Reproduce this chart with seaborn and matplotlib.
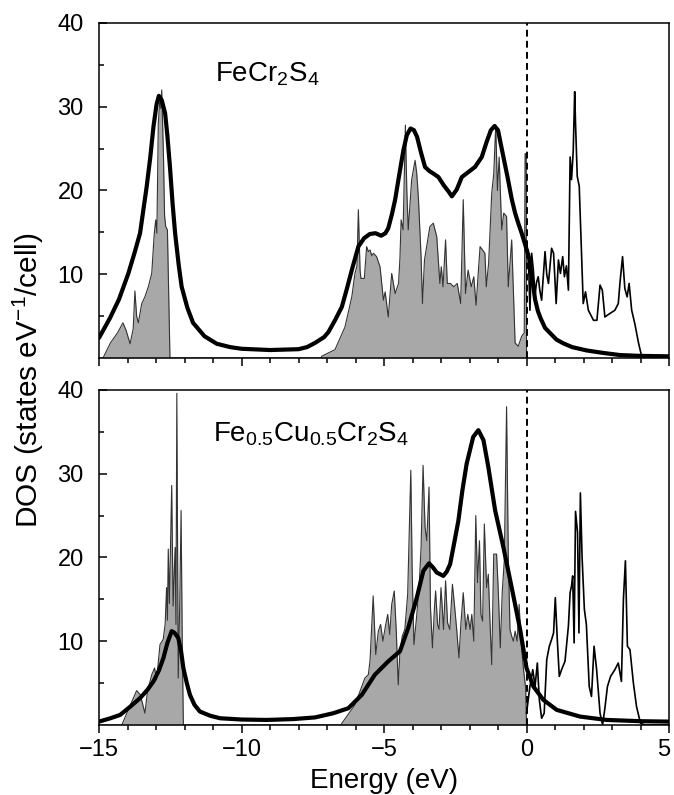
import matplotlib
matplotlib.use("Agg")
import matplotlib.pyplot as plt
import matplotlib.transforms as mtransforms
import seaborn as sns

# ---------------- FeCr2S4 ----------------
# occupied DOS (shaded, E <= 0)
fecr_occ_e = [-15.0, -14.86, -14.6, -14.35, -14.16, -14.05, -13.91, -13.8, -13.74, -13.68,
              -13.62, -13.5, -13.39, -13.27, -13.15, -13.06, -13.01, -12.97, -12.92, -12.86,
              -12.83, -12.8, -12.74, -12.7, -12.66, -12.6, -12.51, -7.2,
              -7.19, -6.72, -6.37, -6.13, -6.02, -5.95, -5.9, -5.84, -5.81, -5.69,
              -5.61, -5.55, -5.49, -5.43, -5.37, -5.26, -5.14, -5.02, -4.96, -4.85,
              -4.73, -4.61, -4.49, -4.44, -4.40, -4.33, -4.25, -4.2, -4.15, -4.03,
              -3.91, -3.85, -3.79, -3.7, -3.65, -3.58, -3.39, -3.27, -3.15, -3.04,
              -2.99, -2.93, -2.84, -2.78, -2.67, -2.55, -2.43, -2.31, -2.22, -2.14,
              -2.05, -1.94, -1.85, -1.77, -1.63, -1.46, -1.41, -1.33, -1.22, -1.15,
              -1.08, -1.02, -0.96, -0.87, -0.8, -0.7, -0.64, -0.52, -0.40, -0.29,
              -0.17, -0.08, -0.05, -0.01, 0.0]
fecr_occ_dos = [0.0, 0.0, 1.8, 3.0, 4.2, 3.3, 1.7, 3.5, 8.0, 5.0,
                4.2, 6.5, 7.3, 8.5, 10.1, 14.9, 16.5, 14.9, 28.0, 31.2,
                29.8, 32.0, 24.4, 17.0, 15.7, 15.3, 0.0, 0.0,
                0.2, 1.0, 3.7, 7.3, 10.1, 11.0, 17.7, 10.5, 9.5, 9.5,
                13.3, 12.7, 12.9, 12.2, 12.5, 12.1, 10.9, 6.9, 7.9, 4.9,
                10.1, 7.7, 8.9, 12.0, 16.5, 15.3, 27.8, 20.0, 15.3, 21.3,
                23.6, 22.0, 18.9, 12.1, 6.5, 11.7, 15.7, 16.1, 14.5, 8.9,
                10.9, 8.5, 14.1, 8.9, 8.9, 8.5, 8.9, 6.5, 18.9, 7.7,
                10.5, 8.5, 9.7, 6.3, 13.3, 12.5, 8.5, 11.3, 19.7, 22.0,
                27.8, 20.0, 24.0, 15.3, 17.3, 16.9, 8.5, 14.1, 1.8, 1.4,
                2.6, 3.0, 24.4, 24.4, 0.0]

# unoccupied DOS (thin line, E >= 0)
fecr_unocc_e = [0.0, 0.06, 0.12, 0.18, 0.24, 0.3, 0.35, 0.41, 0.47, 0.53,
                0.65, 0.71, 0.77, 0.88, 0.95, 1.04, 1.12, 1.19, 1.27, 1.33,
                1.4, 1.47, 1.53, 1.58, 1.64, 1.69, 1.72, 1.78, 1.85, 1.93,
                1.99, 2.07, 2.17, 2.35, 2.47, 2.58, 2.66, 2.75, 2.92, 3.1,
                3.22, 3.28, 3.37, 3.45, 3.53, 3.6, 3.69, 3.8, 3.93, 4.04,
                4.2, 5.0]
fecr_unocc_dos = [12.9, 12.9, 5.7, 12.5, 10.5, 7.5, 9.0, 9.7, 8.0, 6.9,
                  12.7, 10.0, 8.9, 13.1, 12.5, 6.5, 11.7, 10.1, 12.1, 9.7,
                  11.0, 8.1, 24.0, 21.3, 24.8, 31.8, 28.0, 21.7, 20.5, 12.5,
                  6.5, 7.9, 5.7, 4.5, 4.5, 8.7, 8.1, 4.9, 5.3, 5.7,
                  6.5, 9.0, 12.1, 8.3, 7.3, 8.9, 5.7, 4.1, 1.8, 0.2,
                  0.0, 0.0]

# broadened spectrum (thick line)
fecr_broad_e = [-15.0, -14.61, -14.3, -13.97, -13.75, -13.56, -13.33, -13.2, -13.09, -12.98,
                -12.9, -12.8, -12.68, -12.6, -12.51, -12.42, -12.33, -12.2, -12.1, -11.9,
                -11.7, -11.3, -10.87, -10.4, -10.0, -9.0, -8.0, -7.7, -7.42, -7.1,
                -6.95, -6.72, -6.48, -6.3, -6.13, -5.9, -5.7, -5.5, -5.3, -5.1,
                -4.95, -4.85, -4.72, -4.61, -4.44, -4.32, -4.2, -4.07, -3.95, -3.84,
                -3.7, -3.56, -3.4, -3.26, -3.09, -2.9, -2.74, -2.62, -2.45, -2.27,
                -2.04, -1.81, -1.57, -1.4, -1.25, -1.12, -1.0, -0.9, -0.78, -0.66,
                -0.52, -0.4, -0.28, -0.17, 0.0, 0.1, 0.18, 0.25, 0.3, 0.4,
                0.5, 0.65, 0.82, 1.05, 1.29, 1.6, 2.11, 2.7, 3.28, 4.0,
                5.0]
fecr_broad_dos = [2.4, 4.8, 7.0, 10.1, 12.6, 14.9, 20.4, 24.0, 27.6, 30.3,
                  31.3, 30.8, 29.2, 26.5, 22.8, 18.5, 14.9, 11.0, 8.5, 6.0,
                  4.2, 2.6, 1.7, 1.3, 1.1, 0.95, 1.05, 1.3, 1.8, 2.5,
                  3.1, 4.5, 6.1, 8.3, 10.5, 13.3, 14.3, 14.8, 14.9, 14.6,
                  14.9, 15.5, 17.2, 18.9, 22.4, 24.8, 26.6, 27.4, 27.2, 26.4,
                  24.5, 22.8, 22.3, 22.0, 21.6, 20.6, 19.9, 19.3, 20.1, 21.6,
                  22.2, 22.8, 24.0, 25.8, 27.2, 27.7, 27.2, 25.5, 23.5, 21.5,
                  19.0, 17.3, 16.0, 14.9, 13.0, 11.8, 9.7, 8.3, 7.0, 5.6,
                  4.7, 3.6, 3.0, 2.2, 1.75, 1.3, 0.9, 0.6, 0.35, 0.25,
                  0.2]

# ---------------- Fe0.5Cu0.5Cr2S4 ----------------
cu_occ_e = [-15.0, -14.2, -13.95, -13.68, -13.55, -13.39, -13.3, -13.15, -13.05, -12.98,
            -12.86, -12.75, -12.68, -12.63, -12.6, -12.57, -12.53, -12.45, -12.4, -12.33,
            -12.3, -12.27, -12.22, -12.17, -12.12, -12.08, -12.04, -6.5,
            -6.48, -6.02, -5.67, -5.55, -5.49, -5.38, -5.29, -5.2, -5.12, -5.04,
            -4.95, -4.87, -4.8, -4.73, -4.64, -4.57, -4.5, -4.44, -4.36, -4.27,
            -4.17, -4.06, -4.01, -3.95, -3.86, -3.77, -3.70, -3.63, -3.56, -3.5,
            -3.42, -3.37, -3.30, -3.23, -3.19, -3.12, -3.07, -3.0, -2.91, -2.84,
            -2.77, -2.69, -2.6, -2.53, -2.45, -2.37, -2.3, -2.22, -2.13, -2.06,
            -1.98, -1.92, -1.85, -1.78, -1.72, -1.65, -1.6, -1.54, -1.48, -1.4,
            -1.34, -1.28, -1.22, -1.15, -1.05, -0.99, -0.92, -0.85, -0.78, -0.7,
            -0.64, -0.58, -0.52, -0.46, -0.4, -0.33, -0.26, -0.19, -0.11, -0.03,
            0.0]
cu_occ_dos = [0.0, 0.0, 2.0, 4.1, 3.6, 1.4, 4.0, 6.0, 6.8, 5.4,
              9.6, 10.2, 12.0, 16.4, 12.5, 21.0, 14.5, 28.6, 14.2, 21.2,
              12.0, 39.6, 5.6, 14.0, 25.6, 10.0, 0.0, 0.0,
              0.2, 2.4, 5.6, 6.0, 7.7, 15.4, 8.4, 11.2, 12.0, 10.0,
              11.8, 13.2, 10.8, 14.4, 16.0, 11.2, 4.8, 8.8, 10.6, 11.4,
              15.6, 30.4, 18.0, 9.6, 12.8, 16.4, 21.2, 31.0, 23.6, 22.0,
              28.4, 14.0, 9.2, 14.0, 16.0, 12.0, 11.4, 16.4, 11.4, 17.2,
              12.2, 11.4, 16.8, 14.4, 11.4, 8.0, 12.2, 15.8, 11.4, 13.2,
              11.4, 13.2, 10.0, 25.0, 17.0, 22.0, 13.2, 12.4, 24.0, 16.4,
              18.0, 12.2, 7.2, 20.4, 20.4, 16.0, 9.2, 16.0, 19.6, 38.0,
              20.4, 11.4, 10.6, 10.0, 11.2, 10.0, 14.4, 10.0, 6.8, 4.4,
              0.0]

cu_unocc_e = [0.0, 0.12, 0.22, 0.3, 0.38, 0.45, 0.53, 0.62, 0.71, 0.8,
              0.88, 0.95, 1.01, 1.08, 1.15, 1.23, 1.35, 1.47, 1.53, 1.58,
              1.62, 1.67, 1.72, 1.79, 1.84, 1.89, 1.95, 2.03, 2.1, 2.2,
              2.28, 2.37, 2.46, 2.58, 2.67, 2.75, 2.84, 2.95, 3.1, 3.22,
              3.33, 3.4, 3.47, 3.54, 3.63, 3.75, 3.86, 4.0, 4.15, 5.0]
cu_unocc_dos = [1.4, 4.6, 6.6, 4.6, 7.4, 3.0, 0.8, 1.4, 7.8, 9.4,
                10.2, 11.0, 15.2, 10.2, 5.8, 6.6, 7.6, 11.8, 15.8, 16.6,
                17.8, 9.8, 25.5, 23.0, 11.0, 27.7, 20.0, 13.8, 12.0, 4.6,
                3.4, 9.4, 6.6, 1.4, 0.0, 2.0, 4.6, 5.8, 6.6, 7.4,
                5.2, 15.0, 19.6, 9.4, 9.0, 5.0, 2.2, 0.2, 0.0, 0.0]

cu_broad_e = [-15.0, -14.6, -14.26, -13.9, -13.56, -13.3, -13.09, -12.9, -12.74, -12.6,
              -12.45, -12.35, -12.22, -12.12, -12.04, -11.92, -11.81, -11.65, -11.46, -11.1,
              -10.75, -10.0, -9.12, -8.2, -7.42, -6.78, -6.25, -5.78, -5.32, -4.85,
              -4.44, -4.15, -3.85, -3.62, -3.42, -3.28, -3.15, -2.92, -2.8, -2.68,
              -2.55, -2.39, -2.25, -2.1, -1.87, -1.69, -1.51, -1.34, -1.1, -0.81,
              -0.52, -0.23, 0.0, 0.24, 0.59, 1.06, 1.88, 2.81, 4.0, 5.0]
cu_broad_dos = [0.4, 0.8, 1.2, 2.2, 3.2, 4.2, 5.2, 6.5, 8.0, 9.8,
                11.2, 11.0, 10.4, 8.8, 6.8, 5.0, 3.6, 2.4, 1.6, 1.1,
                0.8, 0.65, 0.6, 0.7, 0.9, 1.4, 2.0, 3.6, 6.0, 7.6,
                8.8, 11.6, 15.2, 18.4, 19.3, 18.8, 18.2, 17.8, 18.3, 19.2,
                21.5, 24.4, 28.0, 31.2, 34.4, 35.2, 34.0, 30.8, 25.6, 21.2,
                16.4, 11.5, 6.8, 4.6, 3.0, 1.8, 1.0, 0.6, 0.45, 0.4]

panel_labels = ["FeCr$_2$S$_4$", "Fe$_{0.5}$Cu$_{0.5}$Cr$_2$S$_4$"]
x_ticks = [-15, -10, -5, 0, 5]
x_tick_labels = ["\u221215", "\u221210", "\u22125", "0", "5"]
y_ticks = [10, 20, 30, 40]
x_label = "Energy (eV)"
y_label = "DOS (states eV$^{-1}$/cell)"

FILL = "#a8a8a8"
EDGE = "#333333"

sns.set_style("ticks")
plt.rcParams["font.family"] = ["Liberation Sans", "DejaVu Sans"]
plt.rcParams["mathtext.default"] = "regular"
for key in ("text.color", "axes.labelcolor", "xtick.color", "ytick.color", "axes.edgecolor"):
    plt.rcParams[key] = "black"

fig = plt.figure(figsize=(6.74, 7.95), dpi=100)
ax_top = fig.add_axes([0.1469, 0.5497, 0.8457, 0.4214])
ax_bot = fig.add_axes([0.1469, 0.0881, 0.8457, 0.4214])

panels = [
    (ax_top, fecr_occ_e, fecr_occ_dos, fecr_unocc_e, fecr_unocc_dos,
     fecr_broad_e, fecr_broad_dos, panel_labels[0], (-10.93, 33.0)),
    (ax_bot, cu_occ_e, cu_occ_dos, cu_unocc_e, cu_unocc_dos,
     cu_broad_e, cu_broad_dos, panel_labels[1], (-11.0, 33.8)),
]

for ax, oe, od, ue, ud, be, bd, lab, pos in panels:
    ax.fill_between(oe, od, 0, color=FILL, lw=0, zorder=1)
    sns.lineplot(x=oe, y=od, ax=ax, color=EDGE, lw=0.8, sort=False,
                 estimator=None, zorder=2)
    sns.lineplot(x=ue, y=ud, ax=ax, color="black", lw=1.2, sort=False,
                 estimator=None, zorder=2)
    sns.lineplot(x=be, y=bd, ax=ax, color="black", lw=3.0, sort=False,
                 estimator=None, zorder=3, solid_joinstyle="round")
    ax.axvline(0, color="black", lw=1.4, ls=(0, (3.5, 2.2)), zorder=4)
    ax.text(pos[0], pos[1], lab, fontsize=20, ha="left", va="baseline")

    ax.set_xlim(-15, 5)
    ax.set_ylim(0, 40)
    ax.set_xticks(x_ticks)
    ax.set_xticks(range(-15, 6), minor=True)
    ax.set_yticks(y_ticks)
    ax.set_yticks([5, 15, 25, 35], minor=True)
    ax.set_xlabel("")
    ax.set_ylabel("")
    ax.tick_params(axis="x", which="major", direction="out", length=6, width=1.1,
                   labelsize=17, pad=4)
    ax.tick_params(axis="x", which="minor", direction="out", length=3.5, width=1.1)
    ax.tick_params(axis="y", which="major", direction="in", length=6, width=1.1,
                   labelsize=17, pad=11)
    ax.tick_params(axis="y", which="minor", direction="in", length=3.5, width=1.1)
    for sp in ax.spines.values():
        sp.set_linewidth(1.1)
        sp.set_color("black")

ax_top.tick_params(axis="x", labelbottom=False)
ax_bot.set_xticklabels(x_tick_labels)
# keep the last energy label inside the canvas
last = ax_bot.get_xticklabels()[-1]
last.set_transform(last.get_transform() +
                   mtransforms.ScaledTranslation(-0.05, 0, fig.dpi_scale_trans))

fig.text(384 / 674, 1 - 788 / 795, x_label, fontsize=20, ha="center", va="baseline")
fig.text(0.042, 0.522, y_label, fontsize=21.5, rotation=90, ha="center", va="center")

fig.savefig("out.png", dpi=100)
